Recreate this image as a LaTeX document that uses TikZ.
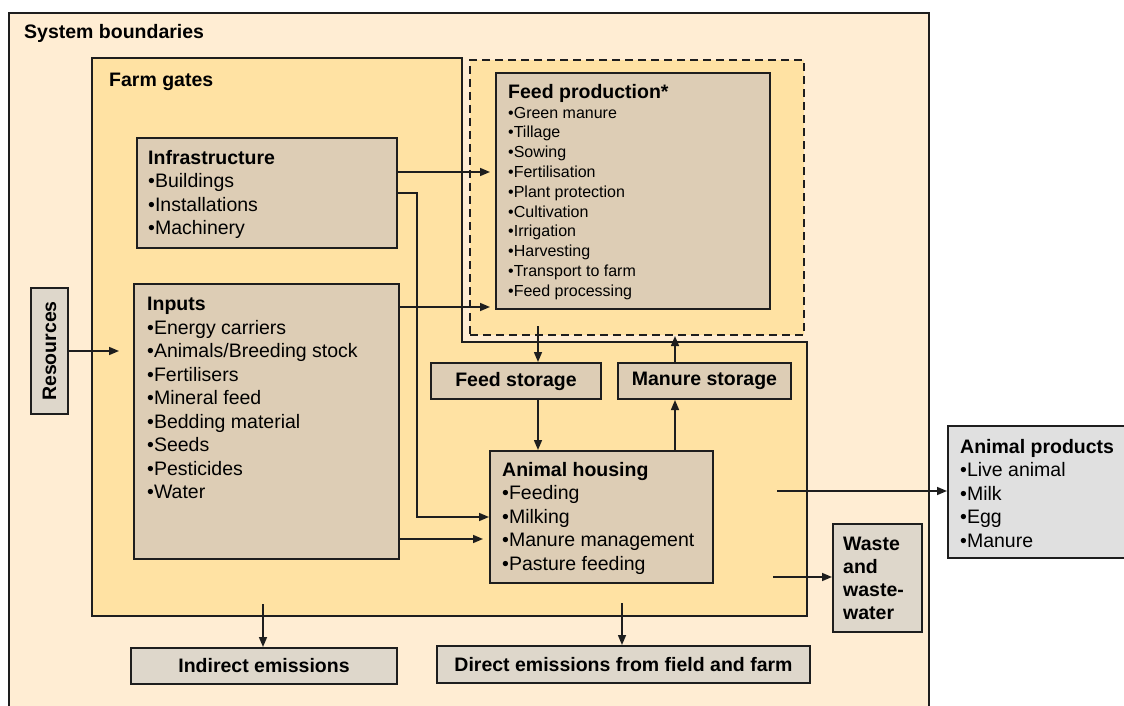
\documentclass[tikz,border=0pt]{standalone}
\usepackage{fontspec}
\setmainfont{Liberation Sans}
\usetikzlibrary{arrows.meta}

\definecolor{outerbg}{RGB}{255,237,211}
\definecolor{farmbg}{RGB}{255,226,163}
\definecolor{tanfill}{RGB}{221,205,181}
\definecolor{greyfill}{RGB}{222,215,203}
\definecolor{prodfill}{RGB}{224,224,224}
\definecolor{edge}{RGB}{30,30,30}

\tikzset{
  box/.style={draw=edge, line width=2pt, fill=tanfill, inner sep=0pt, anchor=north west,
    font=\bfseries\fontsize{19.5}{23.5}\selectfont},
  greybox/.style={box, fill=greyfill},
  txt/.style={anchor=north west, inner sep=0pt, align=left, font=\fontsize{19.5}{23.5}\selectfont},
  boldtxt/.style={txt, font=\bfseries\fontsize{19.5}{23}\selectfont},
  smalltxt/.style={txt, font=\fontsize{16}{19.8}\selectfont},
  flow/.style={draw=edge, line width=1.5pt, -{Triangle[length=10pt,width=8pt]}}
}

\begin{document}
\begin{tikzpicture}[x=1pt,y=1pt]
\useasboundingbox (0,0) rectangle (1124,-706);

\draw[draw=edge, line width=2pt, fill=outerbg] (9,-13) rectangle (929,-730);
\draw[draw=edge, line width=2pt, fill=farmbg] (92,-58) -- (462,-58) -- (462,-342) -- (807,-342) -- (807,-616) -- (92,-616) -- cycle;
\node[box, fill=farmbg, dash pattern=on 8pt off 5pt, minimum width=334, minimum height=275] (feedarea) at (469,-59) {};

\node[txt] (sysb) at (24,-24) {\bfseries System boundaries};
\node[txt] (farmg) at (109,-73) {\bfseries Farm gates};

\node[box, minimum width=260, minimum height=110] (infra) at (136,-137) {};
\node[box, minimum width=265, minimum height=275] (inputs) at (133,-283) {};
\node[box, minimum width=274, minimum height=236] (feedprod) at (495,-72) {};
\node[greybox, anchor=center, rotate=90, minimum width=126, minimum height=37] (resources) at (49.5,-351) {Resources};
\node[box, minimum width=170, minimum height=36] (feedstore) at (430,-362) {Feed storage};
\node[box, minimum width=173, minimum height=36] (manurestore) at (617,-362) {Manure storage};
\node[box, minimum width=223, minimum height=132] (housing) at (489,-450) {};
\node[greybox, minimum width=89, minimum height=108] (waste) at (832,-523) {};
\node[box, fill=prodfill, minimum width=185, minimum height=132] (products) at (947,-425) {};
\node[greybox, minimum width=266, minimum height=36] (indirect) at (130,-647) {Indirect emissions};
\node[greybox, minimum width=373, minimum height=37] (direct) at (436,-645) {Direct emissions from field and farm};

\node[txt] (infra-text) at (148,-150) {{\bfseries Infrastructure}\\•Buildings\\•Installations\\•Machinery};
\node[txt] (inputs-text) at (147,-297) {{\bfseries Inputs}\\•Energy carriers\\•Animals/Breeding stock\\•Fertilisers\\•Mineral feed\\•Bedding material\\•Seeds\\•Pesticides\\•Water};
\node[smalltxt] (feedprod-text) at (508,-84) {{\bfseries\fontsize{19.5}{19.8}\selectfont Feed production*}\\•Green manure\\•Tillage\\•Sowing\\•Fertilisation\\•Plant protection\\•Cultivation\\•Irrigation\\•Harvesting\\•Transport to farm\\•Feed processing};
\node[txt] (housing-text) at (502,-462) {{\bfseries Animal housing}\\•Feeding\\•Milking\\•Manure management\\•Pasture feeding};
\node[txt] (products-text) at (960,-439) {{\bfseries Animal products}\\•Live animal\\•Milk\\•Egg\\•Manure};
\node[boldtxt] (waste-text) at (843,-537) {Waste\\and\\waste-\\water};

\coordinate (feedline) at (538,-326);
\coordinate (manureline) at (675,-331);
\coordinate (prodstart) at (777,-491);
\coordinate (wastestart) at (773,-577);
\coordinate (indstart) at (263,-604);
\coordinate (dirstart) at (622,-603);

\draw[flow, shorten >=14pt] (resources.south) -- (resources.south -| inputs.west);
\draw[flow, shorten >=5pt] ([yshift=21pt]infra.east) -- ([yshift=21pt]infra.east -| feedprod.west);
\draw[flow] (infra.east) -- ++(19,0) |- (housing.west);
\draw[flow, shorten >=5pt] ([yshift=-24pt]inputs.north east) -- ([yshift=-24pt]inputs.north east -| feedprod.west);
\draw[flow, shorten >=6pt] ([yshift=21pt]inputs.south east) -- ([yshift=21pt]inputs.south east -| housing.west);
\draw[flow] (feedline) -- (feedline |- feedstore.north);
\draw[flow] (feedline |- feedstore.south) -- (feedline |- housing.north);
\draw[flow] (manureline |- housing.north) -- (manureline |- manurestore.south);
\draw[flow] (manureline |- manurestore.north) -- (manureline |- feedarea.south);
\draw[flow] (prodstart) -- (prodstart -| products.west);
\draw[flow] (wastestart) -- (wastestart -| waste.west);
\draw[flow] (indstart) -- (indstart |- indirect.north);
\draw[flow] (dirstart) -- (dirstart |- direct.north);
\end{tikzpicture}
\end{document}
